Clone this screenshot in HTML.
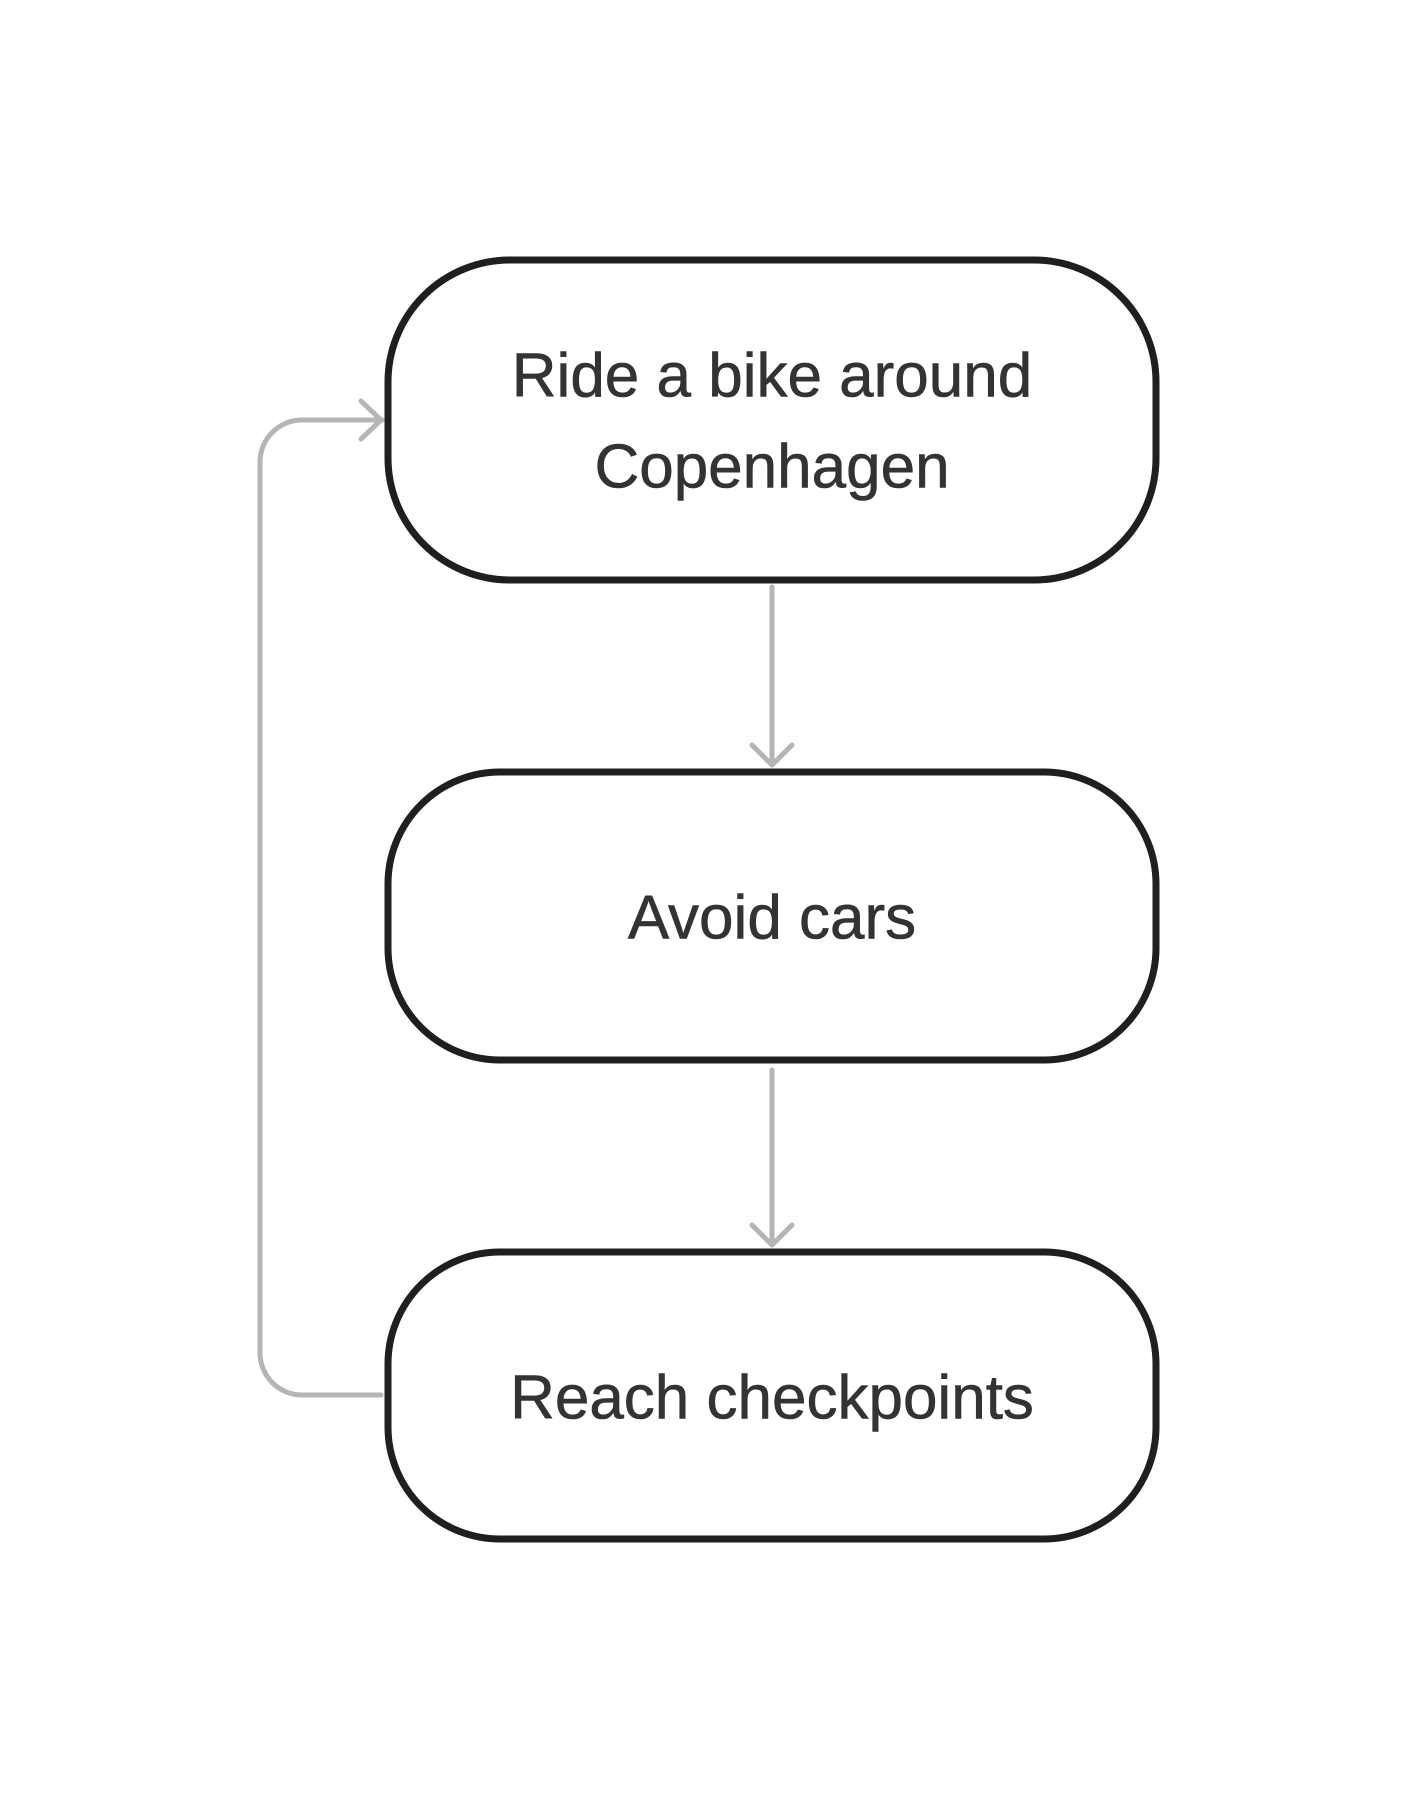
<!DOCTYPE html>
<html><head><meta charset="utf-8"><style>
html,body{margin:0;padding:0;background:#fff;}
svg{display:block;}
text{font-family:"Liberation Sans",sans-serif;font-size:62px;fill:#333;text-anchor:middle;dominant-baseline:central;stroke:#333;stroke-width:0.6px;}
</style></head><body>
<svg width="1416" height="1800" viewBox="0 0 1416 1800" xmlns="http://www.w3.org/2000/svg">
<rect x="0" y="0" width="1416" height="1800" fill="#fff"/>
<g fill="none" stroke="#1f1f1f" stroke-width="7">
<rect x="388" y="260" width="768" height="320" rx="122" ry="122"/>
<rect x="388" y="772" width="768" height="288" rx="112" ry="112"/>
<rect x="388" y="1252" width="768" height="287" rx="112" ry="112"/>
</g>
<g fill="none" stroke="#b5b5b5" stroke-width="5" stroke-linecap="round" stroke-linejoin="round">
<path d="M772 587 V764"/>
<path d="M752 745 L772 765 L792 745"/>
<path d="M772 1070 V1244"/>
<path d="M752 1225 L772 1245 L792 1225"/>
<path d="M381 1395 H302 A42 42 0 0 1 260 1353 V462 A42 42 0 0 1 302 420 H382"/>
<path d="M361 401 L381 420 L361 439"/>
</g>
<text x="772" y="376">Ride a bike around</text>
<text x="772" y="467">Copenhagen</text>
<text x="772" y="918">Avoid cars</text>
<text x="772" y="1398">Reach checkpoints</text>
</svg>
</body></html>
